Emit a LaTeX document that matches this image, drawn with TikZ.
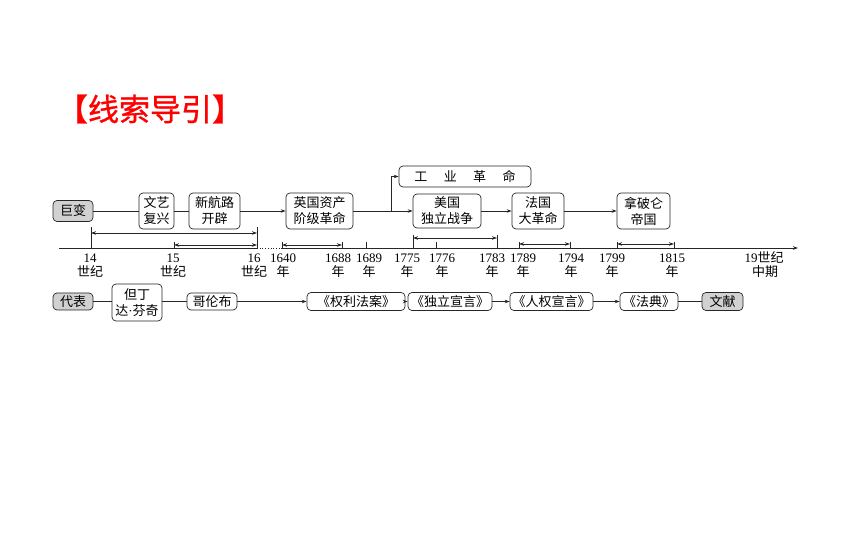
\documentclass[tikz,border=0pt]{standalone}
\usepackage{fontspec}
\setmainfont{Liberation Serif}
\newfontfamily\cjkfont{Noto Sans CJK SC}
\newfontfamily\titlefont[FakeBold=1]{Noto Sans CJK SC}
\newcommand{\zh}[1]{{\cjkfont #1}}
\usetikzlibrary{arrows.meta, positioning}
\tikzstyle{caja} = [draw=black!85, rounded corners=4pt, line width=0.7pt, inner sep=1pt, align=center, font=\cjkfont\fontsize{13}{16}\selectfont]
\tikzstyle{cajagris} = [caja, fill=black!18]
\tikzstyle{linea} = [draw=black!85, line width=0.7pt]
\tikzstyle{flecha} = [linea, -{Stealth[length=5pt,width=3.5pt]}]
\tikzstyle{rango} = [linea, {Stealth[length=5pt,width=3.5pt]}-{Stealth[length=5pt,width=3.5pt]}]
\tikzstyle{fecha} = [inner sep=0pt, anchor=base, font=\fontsize{13}{15}\selectfont]

\begin{document}
\begin{tikzpicture}[x=1pt, y=-1pt]
	\useasboundingbox (0,0) rectangle (860,537);
	\node[text=red, font=\titlefont\fontsize{31}{33}\selectfont] (titulo) at (150,109) {【线索导引】};

	% fila superior
	\node[cajagris, minimum width=40pt, minimum height=21pt] (jubian) at (73,211) {巨变};
	\node[caja, minimum width=35pt, minimum height=36pt] (wenyi) at (156.5,211) {文艺\\复兴};
	\node[caja, minimum width=51pt, minimum height=36pt] (hanglu) at (214.5,211) {新航路\\开辟};
	\node[caja, minimum width=67pt, minimum height=36pt] (yingguo) at (319.5,211) {英国资产\\阶级革命};
	\node[caja, minimum width=132pt, minimum height=21pt] (gongye) at (465,176.5) {工\hspace{16.5pt}业\hspace{16.5pt}革\hspace{16.5pt}命};
	\node[caja, minimum width=68pt, minimum height=34pt] (meiguo) at (447,211) {美国\\独立战争};
	\node[caja, minimum width=52pt, minimum height=36pt] (faguo) at (538,211) {法国\\大革命};
	\node[caja, minimum width=53pt, minimum height=36pt] (napolun) at (643.5,211) {拿破仑\\帝国};
	\coordinate (rama) at (391,211);
	\draw[linea] (jubian) -- (wenyi);
	\draw[linea] (wenyi) -- (hanglu);
	\draw[flecha] (hanglu) -- (yingguo);
	\draw[linea] (yingguo.east) -- (rama);
	\draw[flecha] (rama) -- (meiguo.west);
	\draw[flecha] (rama) |- (gongye.west);
	\draw[flecha] (meiguo) -- (faguo);
	\draw[flecha] (faguo) -- (napolun);

	% eje del tiempo
	\coordinate (inicio) at (59,248);
	\coordinate (fin) at (798,248);
	\foreach \t/\x in {14/91, 15/174, 16/257, 1640/282, 1688/342, 1689/366, 1775/413, 1776/436, 1783/497, 1789/519, 1794/570, 1799/617, 1815/674}
		\coordinate (t\t) at (\x,248);
	\draw[linea] (inicio) -- (t16);
	\draw[linea, dotted] (t16) -- (t1640);
	\draw[flecha] (t1640) -- (fin);
	\foreach \t/\h in {14/21, 16/21, 15/6, 1640/6, 1688/6, 1689/6, 1775/13, 1776/6, 1783/13, 1789/6, 1794/6, 1799/6, 1815/6}
		\draw[linea] (t\t) -- ++(0,-\h);
	\draw[rango] ([yshift=15pt]t14) -- ([yshift=15pt]t16);
	\draw[rango] ([yshift=3pt]t15) -- ([yshift=3pt]t16);
	\draw[rango] ([yshift=3pt]t1640) -- ([yshift=3pt]t1688);
	\draw[rango] ([yshift=10pt]t1775) -- ([yshift=10pt]t1783);
	\draw[rango] ([yshift=4pt]t1789) -- ([yshift=4pt]t1794);
	\draw[rango] ([yshift=4pt]t1799) -- ([yshift=4pt]t1815);
	\foreach \x/\a/\b in {90/14/世纪, 173/15/世纪, 254/16/世纪, 283/1640/年, 338/1688/年, 369/1689/年, 407/1775/年, 442/1776/年, 492/1783/年, 523/1789/年, 571/1794/年, 612/1799/年, 672/1815/年}{
		\node[fecha] (n\a) at (\x,262.5) {\a};
		\node[fecha] (u\a) at (\x,277) {\zh{\b}};
	}
	\node[fecha] (n19) at (764,262.5) {19\zh{世纪}};
	\node[fecha] (u19) at (765,277) {\zh{中期}};

	% fila inferior
	\node[cajagris, minimum width=40pt, minimum height=17pt] (daibiao) at (73,301.5) {代表};
	\node[caja, minimum width=50pt, minimum height=37pt] (danding) at (137,302.5) {但丁\\达{\rmfamily ·}芬奇};
	\node[caja, minimum width=50pt, minimum height=17pt] (gelunbu) at (212,301.5) {哥伦布};
	\node[caja, minimum width=98pt, minimum height=18pt] (quanli) at (356,301.5) {《权利法案》};
	\node[caja, minimum width=84pt, minimum height=18pt] (duli) at (450,301.5) {《独立宣言》};
	\node[caja, minimum width=83pt, minimum height=18pt] (renquan) at (551.5,301.5) {《人权宣言》};
	\node[caja, minimum width=58pt, minimum height=18pt] (fadian) at (649,301.5) {《法典》};
	\node[cajagris, minimum width=41pt, minimum height=18pt] (wenxian) at (722.5,301.5) {文献};
	\draw[linea] (daibiao) -- (daibiao -| danding.west);
	\draw[linea] (daibiao -| danding.east) -- (gelunbu);
	\draw[flecha] (gelunbu) -- (quanli);
	\draw[flecha] (quanli) -- (duli);
	\draw[flecha] (duli) -- (renquan);
	\draw[flecha] (renquan) -- (fadian);
	\draw[linea] (fadian) -- (wenxian);
\end{tikzpicture}
\end{document}
